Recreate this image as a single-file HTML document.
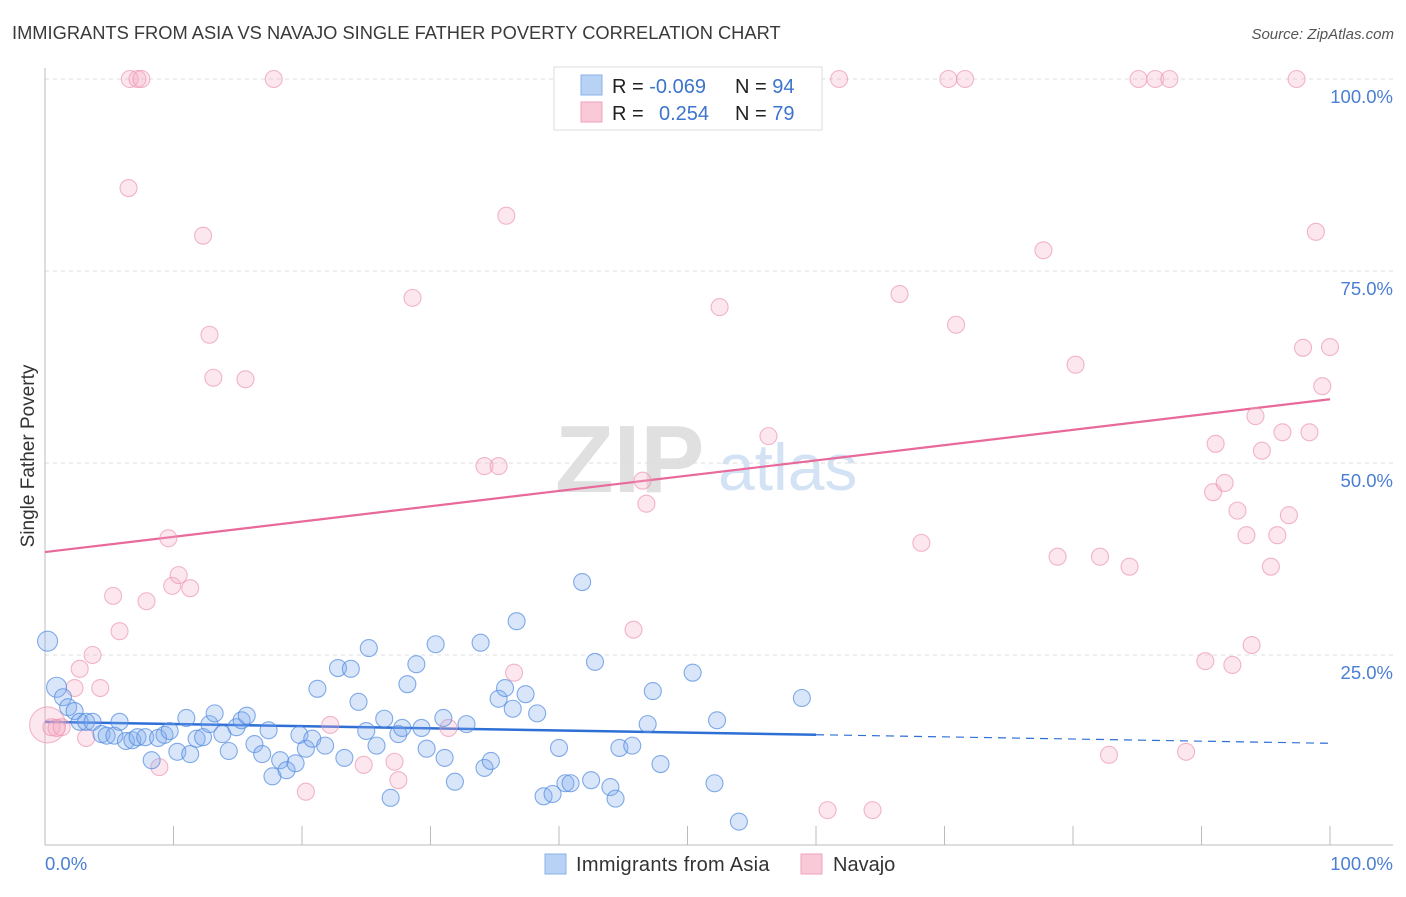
<!DOCTYPE html>
<html><head><meta charset="utf-8"><style>
body{margin:0;background:#fff;font-family:"Liberation Sans",sans-serif;}
svg text{font-family:"Liberation Sans",sans-serif;}
</style></head><body>
<svg id="chart" width="1406" height="892" viewBox="0 0 1406 892" xmlns="http://www.w3.org/2000/svg">
<text x="12" y="39" font-size="18.3" fill="#3a3a3a">IMMIGRANTS FROM ASIA VS NAVAJO SINGLE FATHER POVERTY CORRELATION CHART</text>
<text x="1394" y="39" font-size="15" fill="#555" text-anchor="end" font-style="italic">Source: ZipAtlas.com</text>
<g>
<text x="555" y="492" font-size="96" fill="#e0e0e0" font-family="Liberation Serif" font-weight="bold">ZIP</text>
<text x="718" y="490" font-size="66" fill="#d3e2f4">atlas</text>
</g>
<g id="grid"></g>
<g id="axes"></g>
<text transform="translate(34,456) rotate(-90)" font-size="19" fill="#333" text-anchor="middle">Single Father Poverty</text>
<g id="trend"></g>
<g id="pts"></g>
<g>
<rect x="554" y="67" width="268" height="63" fill="#fff" stroke="#ddd"/>
<rect x="581" y="75" width="21" height="20" fill="#b8d2f5" stroke="#8ab0e6"/>
<rect x="581" y="102" width="21" height="20" fill="#f9c9d7" stroke="#f0a2ba"/>
<text x="612" y="93" font-size="20" fill="#222">R = <tspan fill="#3d74cc">-0.069</tspan></text>
<text x="735" y="93" font-size="20" fill="#222">N = <tspan fill="#3d74cc">94</tspan></text>
<text x="612" y="120" font-size="20" fill="#222">R = </text>
<text x="659" y="120" font-size="20" fill="#3d74cc">0.254</text>
<text x="735" y="120" font-size="20" fill="#222">N = <tspan fill="#3d74cc">79</tspan></text>
</g>
<g>
<rect x="545" y="854" width="21" height="20" fill="#b8d2f5" stroke="#8ab0e6"/>
<text x="576" y="871" font-size="20" fill="#333" letter-spacing="0.3">Immigrants from Asia</text>
<rect x="801" y="854" width="21" height="20" fill="#f9c9d7" stroke="#f0a2ba"/>
<text x="833" y="871" font-size="20" fill="#333">Navajo</text>
</g>
</svg>
<script>
const blueX=[0.2,0.9,1.4,1.8,2.3,2.7,3.2,3.7,4.4,4.8,5.4,5.8,6.3,6.8,7.2,7.8,8.3,8.8,9.3,9.7,10.3,11.0,11.3,11.8,12.3,12.8,13.2,13.8,14.3,14.9,15.3,15.7,16.3,16.9,17.4,17.7,18.3,18.8,19.5,19.8,20.3,20.8,21.2,21.8,23.3,22.8,23.8,24.4,25.0,25.2,25.8,26.4,26.9,27.5,27.8,28.2,28.9,29.3,29.7,30.4,31.0,31.1,31.9,32.8,33.9,34.2,34.7,35.3,35.8,36.4,36.7,37.4,38.3,38.8,39.5,40.0,40.5,40.9,41.8,42.5,42.8,44.0,44.4,44.7,45.7,46.9,47.3,47.9,50.4,52.1,52.3,54.0,58.9];
const blueY=[26.8,20.8,19.5,18.2,17.7,16.3,16.3,16.3,14.7,14.5,14.5,16.3,13.8,13.9,14.3,14.3,11.3,14.2,14.6,15.1,12.4,16.8,12.1,14.1,14.3,16.0,17.4,14.7,12.5,15.6,16.5,17.1,13.4,12.1,15.2,9.2,11.3,10.0,10.9,14.6,12.8,14.1,20.6,13.2,11.6,23.3,23.2,18.9,15.1,25.9,13.2,16.7,6.4,14.7,15.5,21.2,23.8,15.5,12.8,26.4,16.8,11.6,8.5,16.0,26.6,10.3,11.2,19.3,20.7,18.0,29.4,19.9,17.4,6.6,6.9,12.9,8.3,8.3,34.5,8.7,24.1,7.8,6.3,12.9,13.2,16.0,20.3,10.8,22.7,8.3,16.5,3.3,19.4];
const pinkX=[0.2,0.5,0.9,1.3,2.3,2.7,3.2,3.7,4.3,5.3,5.8,6.6,7.2,7.5,6.5,7.9,8.9,9.6,9.9,10.4,11.3,12.3,12.8,13.1,15.6,17.8,20.3,22.2,24.8,27.2,27.5,28.6,31.4,34.2,35.3,35.9,36.5,40.4,45.8,46.5,46.8,52.5,56.3,60.9,61.8,64.4,66.5,68.2,70.3,70.9,71.6,77.7,78.8,80.2,82.1,82.8,84.4,85.1,86.4,87.5,88.8,90.3,90.9,91.1,91.8,92.4,92.8,93.5,93.9,94.2,94.7,95.4,95.9,96.3,96.8,97.4,97.9,98.4,98.9,99.4,100];
const pinkY=[15.9,15.6,15.5,15.6,20.7,23.2,14.2,25.0,20.7,32.7,28.1,100,100,100,85.8,32.0,10.4,40.2,34.0,35.4,33.7,79.6,66.7,61.1,60.9,100,7.2,15.9,10.7,11.1,8.7,71.5,15.5,49.6,49.6,82.2,22.7,100,28.3,47.7,44.7,70.3,53.5,4.8,100,4.8,72.0,39.6,100,68.0,100,77.7,37.8,62.8,37.8,12.0,36.5,100,100,100,12.4,24.2,46.2,52.5,47.4,23.7,43.8,40.6,26.3,56.1,51.6,36.5,40.6,54.0,43.2,100,65.0,54.0,80.1,60.0,65.1];
const blueTrend=[16.3,13.5];
const pinkTrend=[38.4,58.3];
const yTicks=[25,50,75,100];
const yTickLabels=["25.0%","50.0%","75.0%","100.0%"];
const xTicks=[0,10,20,30,40,50,60,70,80,90,100];

const NS="http://www.w3.org/2000/svg";
const X0=45,X1=1330,Y0=847,Y1=79;
function sx(v){return X0+(X1-X0)*v/100;}
function sy(v){return Y0-(Y0-Y1)*v/100;}
function mk(parent,tag,attrs){const e=document.createElementNS(NS,tag);for(const k in attrs)e.setAttribute(k,attrs[k]);parent.appendChild(e);return e;}
const grid=document.getElementById('grid'),axes=document.getElementById('axes');
yTicks.forEach((t,i)=>{
 const l=mk(grid,'line',{x1:X0,x2:1393,y1:sy(t),y2:sy(t),stroke:'#ddd','stroke-dasharray':'4,4'});
 
 
 const tx=mk(axes,'text',{x:1393,y:sy(t)+24,'font-size':18.5,fill:'#4a7fd4','text-anchor':'end'});
 tx.textContent=yTickLabels[i];
 
 
});
const yl=mk(axes,'line',{x1:X0,x2:X0,y1:68,y2:845,stroke:'#bbb'});


const xl=mk(axes,'line',{x1:X0,x2:1393,y1:845,y2:845,stroke:'#bbb'});


xTicks.forEach(t=>{
 const l=mk(axes,'line',{x1:sx(t),x2:sx(t),y1:826,y2:845,stroke:'#bbb'});
 
 
});
const xa=mk(axes,'text',{x:45,y:870,'font-size':18.5,fill:'#4a7fd4'});xa.textContent='0.0%';


const xb=mk(axes,'text',{x:1393,y:870,'font-size':18.5,fill:'#4a7fd4','text-anchor':'end'});xb.textContent='100.0%';



const pts=document.getElementById('pts');
pinkX.forEach((x,i)=>{
 const c=mk(pts,'circle',{cx:sx(x),cy:sy(pinkY[i]),r:i===0?18:8.5,fill:'rgba(246,175,198,0.3)',stroke:'rgba(235,145,175,0.65)','stroke-width':1.1});
 
 
});
blueX.forEach((x,i)=>{
 const c=mk(pts,'circle',{cx:sx(x),cy:sy(blueY[i]),r:i<2?10:8.5,fill:'rgba(130,172,238,0.3)',stroke:'rgba(80,138,222,0.7)','stroke-width':1.1});
 
 
});
const tr=document.getElementById('trend');
function ty(a,v){return a[0]+(a[1]-a[0])*v/100;}
const pl=mk(tr,'line',{x1:sx(0),y1:sy(ty(pinkTrend,0)),x2:sx(100),y2:sy(ty(pinkTrend,100)),stroke:'#e8699a','stroke-width':2.2});


const bl=mk(tr,'line',{x1:sx(0),y1:sy(ty(blueTrend,0)),x2:sx(60),y2:sy(ty(blueTrend,60)),stroke:'#2e6fd6','stroke-width':2.5});


const bd=mk(tr,'line',{x1:sx(60),y1:sy(ty(blueTrend,60)),x2:sx(100),y2:sy(ty(blueTrend,100)),stroke:'#2e6fd6','stroke-width':1.2,'stroke-dasharray':'8,6'});


</script>
</body></html>
